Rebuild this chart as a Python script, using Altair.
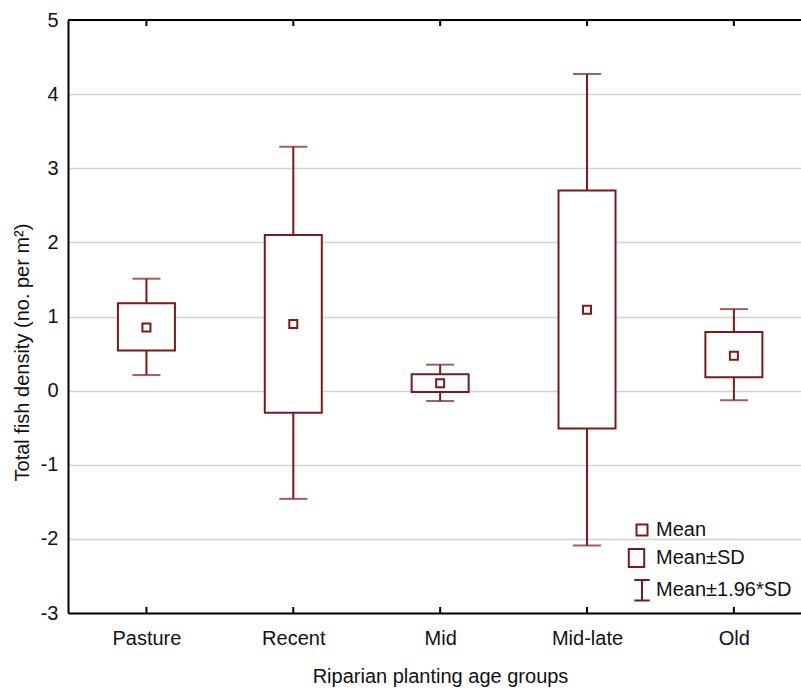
import altair as alt
import pandas as pd

# ---- data ----
groups = ["Pasture", "Recent", "Mid", "Mid-late", "Old"]
means = [0.85, 0.90, 0.10, 1.09, 0.47]
sd_low = [0.54, -0.30, -0.02, -0.51, 0.18]
sd_high = [1.18, 2.10, 0.22, 2.70, 0.79]
ci_low = [0.21, -1.46, -0.14, -2.09, -0.13]
ci_high = [1.51, 3.29, 0.35, 4.27, 1.10]

legend_keys = ["Mean", "Mean\u00b1SD", "Mean\u00b11.96*SD"]
y_ticks = [-3, -2, -1, 0, 1, 2, 3, 4, 5]

RED = "#7a1a1c"
TXT = "#111111"
FONT = "Liberation Sans"
W, H = 733, 593

df = pd.DataFrame({
    "idx": list(range(len(groups))),
    "group": groups,
    "mean": means,
    "sd_low": sd_low,
    "sd_high": sd_high,
    "ci_low": ci_low,
    "ci_high": ci_high,
})

label_expr = "[" + ",".join("'" + g + "'" for g in groups) + "][datum.value]"

xscale = alt.Scale(domain=[-0.5, 4.423], nice=False, zero=False)
yscale = alt.Scale(domain=[-3, 5], nice=False, zero=False)

x_enc = alt.X(
    "idx:Q", scale=xscale,
    axis=alt.Axis(
        values=list(range(len(groups))), labelExpr=label_expr, grid=False,
        ticks=False, domainColor="black", domainWidth=2,
        labelFontSize=20, labelFont=FONT, labelColor=TXT, labelPadding=15,
        title="Riparian planting age groups", titleFontSize=20, titleFont=FONT,
        titleFontWeight="normal", titleColor=TXT, titleX=372, titleY=63,
        titleBaseline="middle", titleAlign="center", labelFlush=False,
    ),
)
y_axis = alt.Axis(
    values=y_ticks, labelExpr="datum.value + ''", grid=True,
    gridColor="#d2d2d2", gridWidth=1.5,
    ticks=False, domainColor="black", domainWidth=2,
    labelFontSize=20, labelFont=FONT, labelColor=TXT, labelPadding=10,
    title="Total fish density (no. per m\u00b2)", titleFontSize=20, titleFont=FONT,
    titleFontWeight="normal", titleColor=TXT, titleX=-46, titleY=332,
    titleBaseline="middle", titleAlign="center", labelFlush=False,
)

base = alt.Chart(df)

whisker = base.mark_rule(color=RED, strokeWidth=2).encode(
    x=x_enc,
    y=alt.Y("ci_low:Q", scale=yscale, axis=y_axis),
    y2="ci_high:Q",
)
cap_hi = base.mark_tick(color=RED, orient="horizontal", size=28, thickness=2).encode(
    x="idx:Q", y="ci_high:Q")
cap_lo = base.mark_tick(color=RED, orient="horizontal", size=28, thickness=2).encode(
    x="idx:Q", y="ci_low:Q")
box = base.mark_bar(size=57, fill="white", stroke=RED, strokeWidth=2).encode(
    x="idx:Q", y="sd_low:Q", y2="sd_high:Q")
mean_pt = base.mark_square(size=64, filled=True, fill="white", stroke=RED,
                           strokeWidth=2, opacity=1).encode(
    x="idx:Q", y="mean:Q")

# frame: top border and inward ticks
top_line = alt.Chart(alt.Data(values=[{"a": 1}])).mark_rule(
    color="black", strokeWidth=2).encode(
    x=alt.value(0), x2=alt.value(W), y=alt.value(0))
bottom_ticks = base.mark_rule(color="black", strokeWidth=2).encode(
    x="idx:Q", y=alt.value(H), y2=alt.value(H - 6))
top_ticks = base.mark_rule(color="black", strokeWidth=2).encode(
    x="idx:Q", y=alt.value(0), y2=alt.value(6))

# legend via a clipped dummy layer
paths = [
    "M-0.5,-0.5H0.5V0.5H-0.5Z",
    "M-1.2,-0.82H0.2V0.82H-1.2Z",
    "M-0.7,-0.9H0.7M0,-0.9V0.95M-0.7,0.95H0.7",
]
leg_df = pd.DataFrame({"key": legend_keys, "lx": [0, 0, 0], "ly": [50, 50, 50]})
legend_layer = alt.Chart(leg_df).mark_point(clip=True, filled=False).encode(
    x="lx:Q", y="ly:Q",
    shape=alt.Shape(
        "key:N",
        scale=alt.Scale(domain=legend_keys, range=paths),
        legend=alt.Legend(
            orient="none", legendX=562, legendY=498, title=None,
            symbolSize=484, symbolStrokeWidth=2, symbolStrokeColor=RED,
            symbolFillColor="white", symbolOpacity=1,
            labelFontSize=20, labelFont=FONT, labelColor=TXT,
            labelOffset=2, rowPadding=4, padding=0, symbolOffset=0,
        ),
    ),
)

chart = alt.layer(
    whisker, cap_hi, cap_lo, box, mean_pt, top_line, bottom_ticks, top_ticks,
    legend_layer,
).properties(
    width=W, height=H,
    autosize=alt.AutoSizeParams(type="none"),
    padding={"left": 68, "top": 20, "right": 0, "bottom": 78},
    background="white",
).configure_view(stroke=None)

chart.save("out.html", embed_options={"renderer": "svg", "actions": False})
